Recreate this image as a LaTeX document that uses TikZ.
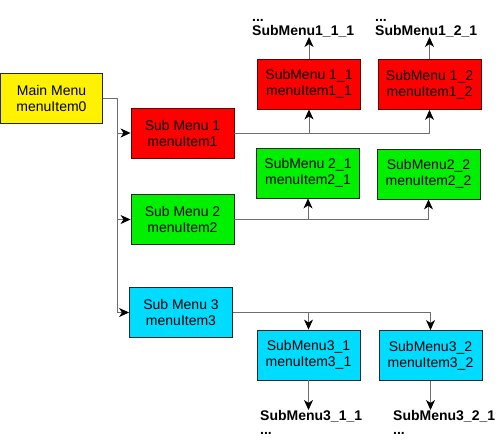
\documentclass[tikz,border=0pt]{standalone}
\usepackage{fontspec}
\setmainfont{Liberation Sans}
\usetikzlibrary{arrows.meta}
\definecolor{cyanbox}{RGB}{0,220,255}
\definecolor{greenbox}{RGB}{0,240,0}
\definecolor{linegray}{RGB}{110,110,110}
\tikzset{
  box/.style={draw=black!85, line width=0.9pt, minimum width=103pt, minimum height=50pt, inner sep=0pt, align=center, font=\fontsize{14}{16}\selectfont},
  redbox/.style={box, fill=red, draw=red!35!black},
  greenb/.style={box, fill=greenbox},
  cyanb/.style={box, fill=cyanbox},
  yellowb/.style={box, fill=yellow},
  conn/.style={draw=linegray, line width=0.8pt},
  arr/.style={conn, -{Stealth[length=10pt,width=9pt,inset=3pt,color=black]}},
  lbl/.style={align=left, inner sep=0pt, font=\bfseries\fontsize{14}{14}\selectfont},
}
\begin{document}
\begin{tikzpicture}[x=1pt,y=-1pt]
\useasboundingbox (0,0) rectangle (502,444);
\fill[white] (0,0) rectangle (502,444);
% boxes
\node[yellowb, minimum width=102pt] (main) at (51.5,98) {Main Menu\\menuItem0};
\node[redbox] (sm1) at (182.5,133) {Sub Menu 1\\menuItem1};
\node[greenb] (sm2) at (182.5,219.5) {Sub Menu 2\\menuItem2};
\node[cyanb] (sm3) at (181,312.5) {Sub Menu 3\\menuItem3};
\node[redbox] (sm11) at (309,84) {SubMenu 1\_1\\menuItem1\_1};
\node[redbox] (sm12) at (429.5,84.5) {SubMenu 1\_2\\menuItem1\_2};
\node[greenb] (sm21) at (308,173) {SubMenu 2\_1\\menuItem2\_1};
\node[greenb] (sm22) at (428.5,174) {SubMenu2\_2\\menuItem2\_2};
\node[cyanb] (sm31) at (308.5,355) {SubMenu3\_1\\menuItem3\_1};
\node[cyanb] (sm32) at (430.5,355.5) {SubMenu3\_2\\menuItem3\_2};
% labels
\node[lbl, anchor=south west] (l11) at (252,37) {...\\SubMenu1\_1\_1};
\node[lbl, anchor=south west] (l12) at (375,37) {...\\SubMenu1\_2\_1};
\node[lbl, anchor=north west] (l31) at (260,410) {SubMenu3\_1\_1\\...};
\node[lbl, anchor=north west] (l32) at (393,410) {SubMenu3\_2\_1\\...};
% trunk
\coordinate (t) at (117,98);
\draw[conn] (main.east) -- (t);
\draw[arr] (t) |- (sm1.west);
\draw[arr] (t) |- (sm2.west);
\draw[arr] (t) |- (sm3.west);
% level 2
\draw[arr] (sm1.east) -| (sm11.south);
\draw[arr] (sm1.east) -| (sm12.south);
\draw[arr] (sm2.east) -| (sm21.south);
\draw[arr] (sm2.east) -| (sm22.south);
\draw[arr] (sm3.east) -| (sm31.north);
\draw[arr] (sm3.east) -| (sm32.north);
% level 3
\draw[arr] (sm11.north) -- (sm11.north |- l11.south);
\draw[arr] (sm12.north) -- (sm12.north |- l12.south);
\draw[arr] (sm31.south) -- (sm31.south |- l31.north);
\draw[arr] (sm32.south) -- (sm32.south |- l32.north);
\end{tikzpicture}
\end{document}
